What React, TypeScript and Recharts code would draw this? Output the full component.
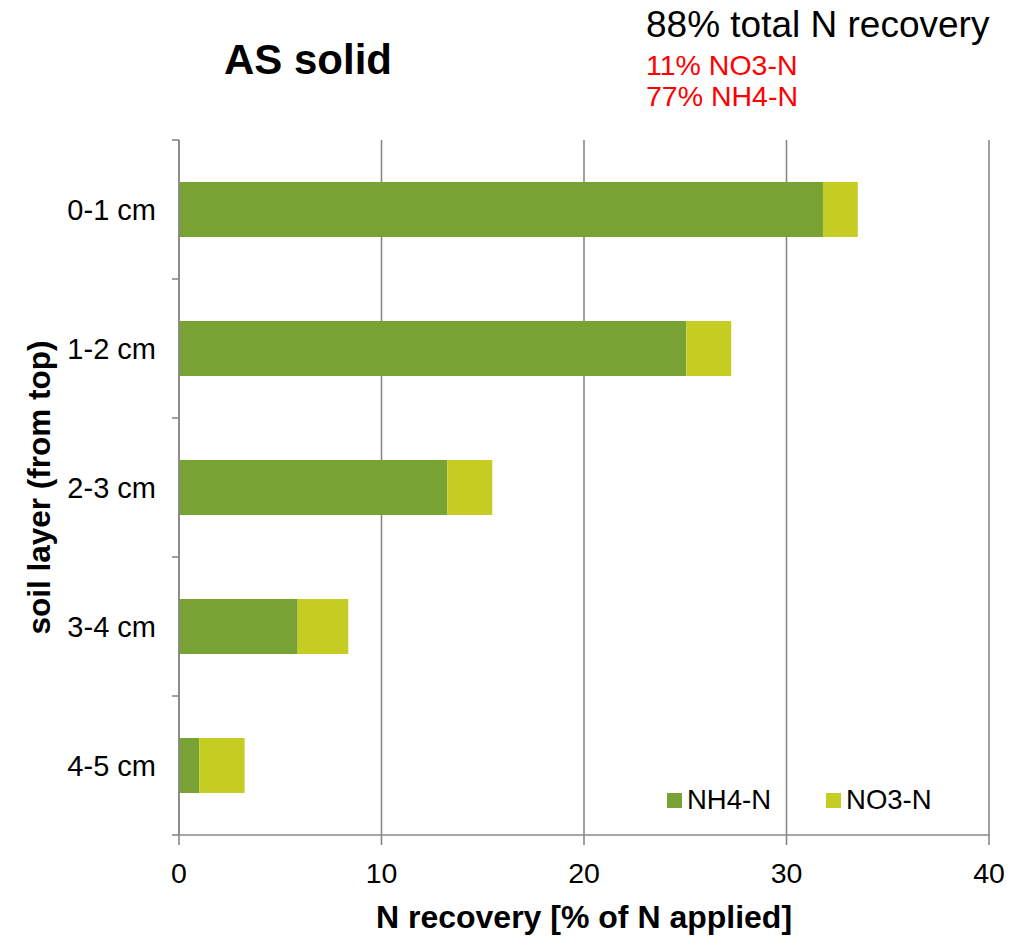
import React from 'react';
import { BarChart, Bar, XAxis, YAxis, CartesianGrid, Legend, Label } from 'recharts';

const layers = ['0-1 cm', '1-2 cm', '2-3 cm', '3-4 cm', '4-5 cm'];
const nh4 = [31.8, 25.05, 13.25, 5.86, 1.0];
const no3 = [1.72, 2.22, 2.22, 2.5, 2.24];
const xTicks = [0, 10, 20, 30, 40];
const title = 'AS solid';
const totalNote = '88% total N recovery';
const partNotes = ['11% NO3-N', '77% NH4-N'];

const data = layers.map((layer, i) => ({ layer, nh4: nh4[i], no3: no3[i] }));

const FONT = '"Liberation Sans", Arial, Helvetica, sans-serif';
const GRID = '#888888';
const NH4_COLOR = '#78a233';
const NO3_COLOR = '#c5cd22';

const CHART_W = 1035;
const CHART_H = 936;
const MARGIN = { top: 140, right: 46, bottom: 0, left: 0 };
const X_AXIS_H = 101;
const Y_AXIS_W = 179;
const Y_TICK_SIZE = 7;
const Y_TICK_MARGIN = 16;
const BAND = (CHART_H - MARGIN.top - MARGIN.bottom - X_AXIS_H) / layers.length;

const renderLegend = (props: any) => {
  const payload = props.payload || [];
  return (
    <div style={{ display: 'flex', fontFamily: FONT, fontSize: 27.5, lineHeight: '30px', color: '#000', whiteSpace: 'nowrap' }}>
      {payload.map((p: any, i: number) => (
        <div key={i} style={{ display: 'flex', alignItems: 'center', marginRight: 55 }}>
          <span style={{ display: 'inline-block', width: 15, height: 15, background: p.color, marginRight: 5 }} />
          <span>{p.value}</span>
        </div>
      ))}
    </div>
  );
};

const LayerTick = (props: any) => {
  const { x, y, payload, index } = props;
  const axisX = x + Y_TICK_SIZE + Y_TICK_MARGIN;
  const half = BAND / 2;
  return (
    <g>
      <line x1={axisX} x2={axisX - Y_TICK_SIZE} y1={y - half} y2={y - half} stroke={GRID} strokeWidth={1.6} />
      {index === layers.length - 1 && (
        <line x1={axisX} x2={axisX - Y_TICK_SIZE} y1={y + half} y2={y + half} stroke={GRID} strokeWidth={1.6} />
      )}
      <text x={x} y={y} dy="0.355em" textAnchor="end" fontFamily={FONT} fontSize={29} fill="#000">
        {payload.value}
      </text>
    </g>
  );
};

export default function App() {
  return (
    <div style={{ position: 'absolute', left: 0, top: 0, width: CHART_W, height: CHART_H, background: '#fff' }}>
      <BarChart
        width={CHART_W}
        height={CHART_H}
        data={data}
        layout="vertical"
        margin={MARGIN}
        barSize={55}
      >
        <CartesianGrid horizontal={false} stroke={GRID} strokeWidth={1.6} yAxisId="cat" />
        <XAxis
          type="number"
          domain={[0, 40]}
          ticks={xTicks}
          height={X_AXIS_H}
          axisLine={{ stroke: GRID, strokeWidth: 1.6 }}
          tickLine={{ stroke: GRID, strokeWidth: 1.6 }}
          tickSize={10}
          tickMargin={18}
          tick={{ fontSize: 28.5, fill: '#000', fontFamily: FONT }}
        >
          <Label
            content={(props: any) => {
              const vb = props.viewBox || {};
              return (
                <text
                  x={vb.x + vb.width / 2}
                  y={vb.y + 93}
                  textAnchor="middle"
                  fontFamily={FONT}
                  fontSize={32}
                  fontWeight="bold"
                  fill="#000"
                >
                  N recovery [% of N applied]
                </text>
              );
            }}
          />
        </XAxis>
        <YAxis
          yAxisId="cat"
          type="category"
          dataKey="layer"
          width={Y_AXIS_W}
          axisLine={{ stroke: GRID, strokeWidth: 1.6 }}
          tickLine={false}
          tickSize={Y_TICK_SIZE}
          tickMargin={Y_TICK_MARGIN}
          tick={LayerTick}
        >
          <Label
            content={(props: any) => {
              const vb = props.viewBox || {};
              const cx = 50;
              const cy = vb.y + vb.height / 2;
              return (
                <text
                  x={cx}
                  y={cy}
                  transform={`rotate(-90, ${cx}, ${cy})`}
                  textAnchor="middle"
                  fontFamily={FONT}
                  fontSize={31.5}
                  fontWeight="bold"
                  fill="#000"
                >
                  soil layer (from top)
                </text>
              );
            }}
          />
        </YAxis>
        <Legend
          layout="vertical"
          align="center"
          verticalAlign="middle"
          content={renderLegend}
          wrapperStyle={{ position: 'absolute', left: 667, top: 785, width: 340, height: 30 }}
        />
        <Bar dataKey="nh4" name="NH4-N" stackId="a" fill={NH4_COLOR} yAxisId="cat" isAnimationActive={false} />
        <Bar dataKey="no3" name="NO3-N" stackId="a" fill={NO3_COLOR} yAxisId="cat" isAnimationActive={false} />
      </BarChart>
      <svg
        width={CHART_W}
        height={140}
        style={{ position: 'absolute', left: 0, top: 0, pointerEvents: 'none' }}
      >
        <text x={224} y={74} fontFamily={FONT} fontSize={42} fontWeight="bold" fill="#000">
          {title}
        </text>
        <text x={646} y={37} fontFamily={FONT} fontSize={37} fill="#000">
          {totalNote}
        </text>
        <text x={646} y={75} fontFamily={FONT} fontSize={28.5} fill="#ff0000">
          {partNotes[0]}
        </text>
        <text x={646} y={106} fontFamily={FONT} fontSize={28.5} fill="#ff0000">
          {partNotes[1]}
        </text>
      </svg>
    </div>
  );
}
